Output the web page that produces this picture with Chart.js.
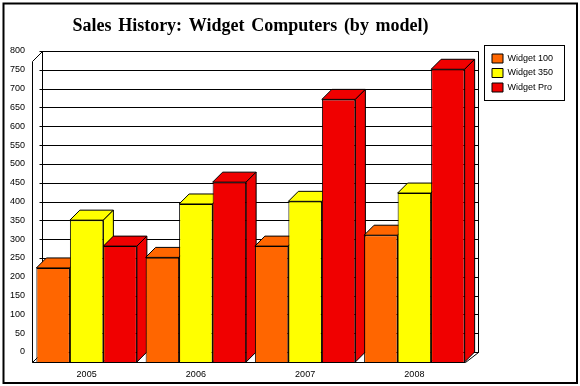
<!DOCTYPE html>
<html><head><meta charset="utf-8">
<style>html,body{margin:0;padding:0;background:#fff}#w{width:580px;height:386px}canvas{display:block}</style>
<script src="https://cdn.jsdelivr.net/npm/chart.js@4/dist/chart.umd.min.js"></script>
</head><body><div id="w"><canvas id="c" width="580" height="386"></canvas></div>
<script>
const categories = ["2005","2006","2007","2008"];
const widget100 = [250,278,308,337];
const widget350 = [377,420,427,449];
const widgetPro = [308,478,698,778];
const titleText = "Sales History: Widget Computers (by model)";
const DEPTH = 10, RIGHT_DX = 13, FLOOR_INSET = 4;

function poly(ctx, pts, fill){
  ctx.beginPath();
  pts.forEach((p,i)=> i?ctx.lineTo(p[0],p[1]):ctx.moveTo(p[0],p[1]));
  ctx.closePath();
  if(fill){ctx.fillStyle=fill;ctx.fill();}
  ctx.strokeStyle='#000';ctx.lineWidth=1;ctx.stroke();
}
const scene = {
  id:'scene',
  afterLayout(chart){
    const l = chart.legend;
    l.left=486.5; l.top=48.5; l.right=l.left+l.width; l.bottom=l.top+l.height;
    const tb = chart.titleBlock;
    if(!tb._spaced){
      const d=tb.draw;
      tb.draw=function(){
        const ctx=chart.ctx;
        ctx.save();
        ctx.wordSpacing='2.2px';
        d.call(tb);
        ctx.restore();
      };
      tb._spaced=true;
    }
  },
  beforeDraw(chart){
    const ctx=chart.ctx;
    ctx.save();
    ctx.fillStyle='#fff';ctx.fillRect(0,0,580,386);
    ctx.strokeStyle='#000';ctx.lineWidth=2;ctx.strokeRect(3.5,3.5,573.5,379.5);
    ctx.strokeStyle='#000';ctx.lineWidth=1;
    ctx.fillStyle='#fff';ctx.fillRect(484.5,45.5,80,55);ctx.strokeRect(484.5,45.5,80,55);
    ctx.restore();
  },
  beforeDatasetsDraw(chart){
    const ctx=chart.ctx, a=chart.chartArea, y=chart.scales.y;
    ctx.save();
    const L=Math.round(a.left)+.5, R=Math.round(a.right)-FLOOR_INSET+.5, T=Math.round(a.top)+.5, B=Math.round(a.bottom)+.5;
    const bx=L+DEPTH, brx=R+RIGHT_DX, tp=T-DEPTH, bb=B-DEPTH;
    poly(ctx,[[bx,tp],[brx,tp],[brx,bb],[bx,bb]],'#fff');
    poly(ctx,[[L,T],[bx,tp],[bx,bb],[L,B]],'#fff');
    poly(ctx,[[L,B],[bx,bb],[brx,bb],[R,B]],'#fff');
    ctx.beginPath();
    y.ticks.forEach(t=>{
      const py=Math.round(y.getPixelForValue(t.value))-DEPTH+.5;
      ctx.moveTo(bx-3,py);ctx.lineTo(brx,py);
    });
    ctx.strokeStyle='#000';ctx.lineWidth=1;ctx.stroke();
    const bars=[];
    chart.data.datasets.forEach((d,i)=>{
      chart.getDatasetMeta(i).data.forEach(b=>bars.push({b,c:d.backgroundColor}));
    });
    bars.sort((p,q)=>p.b.x-q.b.x);
    bars.forEach(({b,c})=>{
      const l=b.x-b.width/2, r=b.x+b.width/2, t=b.y, f=b.base;
      poly(ctx,[[l,t],[l+DEPTH,t-DEPTH],[r+DEPTH,t-DEPTH],[r,t]],c);
      poly(ctx,[[r,t],[r+DEPTH,t-DEPTH],[r+DEPTH,f-DEPTH],[r,f]],c);
    });
    ctx.restore();
  }
};
new Chart(document.getElementById('c'),{
  type:'bar',
  data:{labels:categories,datasets:[
    {label:'Widget 100',data:widget100,backgroundColor:'#FF6600',borderColor:'#000',borderWidth:1},
    {label:'Widget 350',data:widget350,backgroundColor:'#FFFF00',borderColor:'#000',borderWidth:1},
    {label:'Widget Pro',data:widgetPro,backgroundColor:'#F00000',borderColor:'#000',borderWidth:1}
  ]},
  options:{
    responsive:false,animation:false,
    layout:{padding:{left:0,right:111,top:15.5,bottom:0}},
    datasets:{bar:{categoryPercentage:0.92,barPercentage:1}},
    plugins:{
      tooltip:{enabled:false},
      title:{display:true,text:titleText,fullSize:false,color:'#000',
        font:{family:'"Liberation Serif"',size:18,weight:'bold',lineHeight:1.2},
        padding:{top:0,bottom:23.9}},
      legend:{display:true,position:'chartArea',align:'start',
        labels:{boxWidth:11,boxHeight:9,padding:5.5,color:'#000',
          font:{family:'"Liberation Sans"',size:9}}}
    },
    scales:{
      x:{grid:{display:false,drawTicks:false},border:{display:false},
        afterFit(s){s.height=24;},
        ticks:{padding:7,color:'#000',font:{family:'"Liberation Sans"',size:9},maxRotation:0}},
      y:{min:0,max:800,grid:{display:false,drawTicks:false},border:{display:false},
        afterFit(s){s.width=32;},
        ticks:{stepSize:50,padding:7,labelOffset:-10,color:'#000',font:{family:'"Liberation Sans"',size:9}}}
    }
  },
  plugins:[scene]
});
</script></body></html>
